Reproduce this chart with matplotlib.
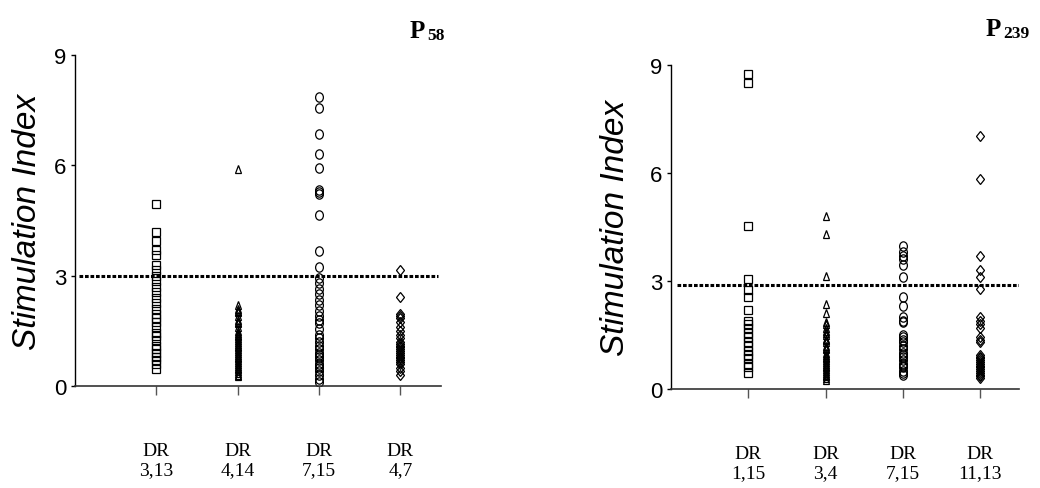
import matplotlib
matplotlib.use('Agg')
import matplotlib.pyplot as plt
from matplotlib.markers import MarkerStyle
from matplotlib.transforms import Affine2D

# P58 panel
p58_groups = ['DR\n3,13', 'DR\n4,14', 'DR\n7,15', 'DR\n4,7']
p58_sq = [4.95, 4.2, 3.95, 3.7, 3.55, 3.3, 3.15, 3.0, 2.85, 2.7, 2.55, 2.4, 2.25, 2.1,
          1.95, 1.85, 1.75, 1.6, 1.45, 1.35, 1.25, 1.1, 1.0, 0.9, 0.8, 0.7, 0.6, 0.45]
p58_tri = [5.9, 2.2, 2.1, 2.05, 2.0, 1.9, 1.8, 1.75, 1.7, 1.6, 1.5, 1.45, 1.4, 1.35,
           1.3, 1.25, 1.2, 1.15, 1.1, 1.05, 1.0, 0.95, 0.9, 0.85, 0.8, 0.75, 0.7, 0.65,
           0.6, 0.55, 0.5, 0.45, 0.4, 0.35, 0.3, 0.28]
p58_circ = [7.87, 7.57, 6.85, 6.32, 5.92, 5.33, 5.28, 5.22, 4.66, 3.66, 3.24, 2.95, 2.8,
            2.65, 2.5, 2.35, 2.2, 2.05, 1.9, 1.8, 1.7, 1.55, 1.4, 1.3, 1.2, 1.1, 1.0,
            0.9, 0.85, 0.8, 0.7, 0.6, 0.55, 0.5, 0.4, 0.3, 0.2, 0.1]
p58_dia = [3.15, 2.42, 1.95, 1.9, 1.85, 1.75, 1.6, 1.5, 1.4, 1.3, 1.2, 1.15, 1.1, 1.05,
           1.0, 0.95, 0.9, 0.85, 0.8, 0.75, 0.7, 0.65, 0.6, 0.5, 0.4, 0.3]
p58_cut = 3.0

# P239 panel
p239_groups = ['DR\n1,15', 'DR\n3,4', 'DR\n7,15', 'DR\n11,13']
p239_sq = [8.75, 8.5, 4.54, 3.05, 2.75, 2.55, 2.2, 1.9, 1.8, 1.7, 1.55, 1.45, 1.3, 1.2,
           1.05, 0.95, 0.85, 0.7, 0.6, 0.45]
p239_tri = [4.8, 4.3, 3.15, 2.35, 2.1, 1.85, 1.8, 1.7, 1.6, 1.55, 1.5, 1.4, 1.35, 1.3,
            1.2, 1.15, 1.1, 1.0, 0.95, 0.9, 0.85, 0.8, 0.75, 0.7, 0.65, 0.6, 0.55, 0.5,
            0.45, 0.4, 0.35, 0.3, 0.25]
p239_circ = [3.98, 3.8, 3.7, 3.6, 3.45, 3.1, 2.55, 2.3, 2.0, 1.9, 1.85, 1.5, 1.45, 1.35,
             1.3, 1.2, 1.1, 1.0, 0.95, 0.9, 0.8, 0.7, 0.65, 0.6, 0.5, 0.45, 0.4]
p239_dia = [7.02, 5.83, 3.7, 3.3, 3.1, 2.78, 2.0, 1.9, 1.8, 1.7, 1.45, 1.35, 1.3, 0.95,
            0.9, 0.85, 0.8, 0.75, 0.7, 0.65, 0.6, 0.55, 0.5, 0.45, 0.4, 0.35, 0.3]
p239_cut = 2.9

y_ticks = [0, 3, 6, 9]

SANS = 'Liberation Sans'
SERIF = 'Liberation Serif'

# markers slightly taller than wide, like the original
stretch = Affine2D().scale(1.0, 1.2)
mk = [MarkerStyle(m, transform=stretch) for m in ['s', '^', 'o', 'D']]
msz = [5.2, 4.8, 5.6, 4.4]

fig = plt.figure(figsize=(10.4, 4.89), dpi=100)
W, H = 1040, 489


def panel(rect, groups, series, cut, line_span, ylabelpad):
    ax = fig.add_axes(rect)
    for i, vals in enumerate(series):
        ax.plot([i + 1] * len(vals), vals, ls='none', marker=mk[i], ms=msz[i],
                mfc='none', mec='black', mew=0.9)
    ax.plot(line_span, [cut, cut], color='black', lw=2.2, ls=(0, (1.2, 0.6)))
    ax.set_xlim(0, 4.5)
    ax.set_ylim(0, 9)
    ax.spines['top'].set_visible(False)
    ax.spines['right'].set_visible(False)
    ax.spines['left'].set_linewidth(1.0)
    ax.spines['bottom'].set_linewidth(1.2)
    ax.spines['bottom'].set_color('#333333')
    ax.set_yticks(y_ticks)
    ax.set_yticklabels([str(t) for t in y_ticks], fontfamily=SANS, fontsize=16)
    ax.tick_params(axis='y', length=3, width=1, pad=3)
    ax.set_xticks(range(1, len(groups) + 1))
    ax.set_xticklabels(groups, fontfamily=SERIF, fontsize=14, linespacing=1.15)
    ax.tick_params(axis='x', length=6.5, width=1, color='#555555', pad=34)
    ax.set_ylabel('Stimulation Index', fontfamily=SANS, fontstyle='italic', fontsize=24,
                  labelpad=ylabelpad)
    return ax


ax1 = panel([75 / W, 1 - 387 / H, 366 / W, 331 / H], p58_groups,
            [p58_sq, p58_tri, p58_circ, p58_dia], p58_cut, [0.05, 4.46], 8)
ax2 = panel([671 / W, 1 - 390 / H, 348 / W, 324 / H], p239_groups,
            [p239_sq, p239_tri, p239_circ, p239_dia], p239_cut, [0.08, 4.67], 14)

# panel titles with subscripts
fig.text(410 / W, 1 - 38 / H, 'P', fontfamily=SERIF, fontweight='bold', fontsize=18,
         va='baseline', ha='left')
fig.text(427 / W, 1 - 40 / H, '58', fontfamily=SERIF, fontweight='bold', fontsize=12.5,
         va='baseline', ha='left')
fig.text(986 / W, 1 - 36 / H, 'P', fontfamily=SERIF, fontweight='bold', fontsize=18,
         va='baseline', ha='left')
fig.text(1003 / W, 1 - 38 / H, '239', fontfamily=SERIF, fontweight='bold', fontsize=12.5,
         va='baseline', ha='left')

fig.savefig('out.png', dpi=100)
